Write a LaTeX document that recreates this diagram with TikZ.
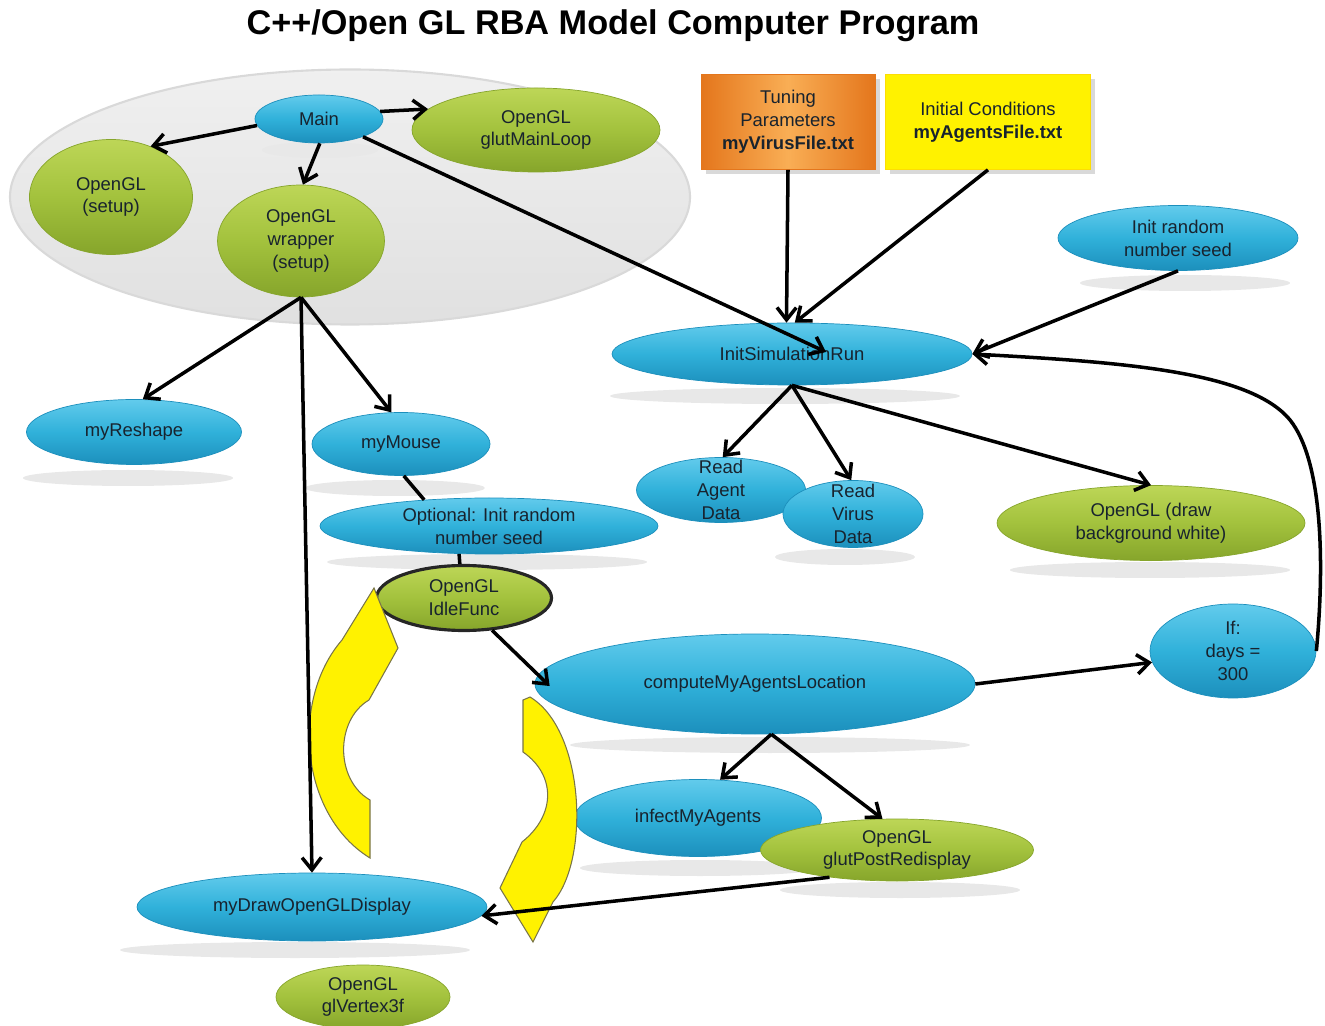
\documentclass[tikz,border=0pt]{standalone}
\usepackage{fontspec}
\setmainfont{Liberation Sans}
\usetikzlibrary{arrows.meta,shapes.geometric,calc,shadows}
\definecolor{bluelt}{HTML}{62CBEC}
\definecolor{bluemd}{HTML}{30B1DA}
\definecolor{bluedk}{HTML}{1C8FBC}
\definecolor{greenlt}{HTML}{BDD657}
\definecolor{greenmd}{HTML}{A3C23D}
\definecolor{greendk}{HTML}{86A52B}
\definecolor{orangelt}{HTML}{F9AE55}
\definecolor{orangedk}{HTML}{E4761C}
\definecolor{txt}{HTML}{18232E}
\tikzset{
    oval/.style={ellipse, inner sep=-6pt, align=center, text=txt, font=\fontsize{10.5}{13}\selectfont}, % 椭圆结点的通用样式
    blueoval/.style={oval, draw=bluedk, top color=bluelt, bottom color=bluedk, middle color=bluemd}, % 蓝色椭圆
    greenoval/.style={oval, draw=greendk, top color=greenlt, bottom color=greendk, middle color=greenmd}, % 绿色椭圆
    filebox/.style={rectangle, inner sep=2pt, align=center, text=txt, font=\fontsize{10.5}{13}\selectfont, drop shadow={opacity=0.3}}, % 输入文件方框
    wh/.style 2 args={minimum width=#1*0.02cm, minimum height=#2*0.02cm}, % 按像素给出尺寸
    link/.style={line width=2pt, -{Straight Barb[length=7pt,width=11pt]}}, % 带箭头的连线
    plainlink/.style={line width=2pt}, % 无箭头的连线
    flatshadow/.style={fill=black!9}, % 结点下方的阴影
    loopy/.style={fill=yellow, draw=black!60!yellow, line width=0.6pt} % 黄色循环箭头
}

\begin{document}
\begin{tikzpicture}[x=0.02cm, y=-0.02cm]
    \useasboundingbox (0,0) rectangle (1325,1026);

    \node[font=\bfseries\fontsize{19.5}{22}\selectfont] (title) at (613,26) {C++/Open GL RBA Model Computer Program};

    % 主程序分组
    \node[ellipse, wh={680}{255}, draw=black!15, line width=1.2pt, top color=black!6, bottom color=black!12] (group) at (350,197) {};

    \foreach \sx/\sy/\sr in {320/150/58, 1185/283/105, 785/396/175, 128/478/105, 395/488/90, 487/562/160,
        845/557/70, 1150/570/140, 770/745/200, 700/868/120, 900/890/120, 295/950/175} {
        \fill[flatshadow] (\sx,\sy) ellipse [x radius=\sr, y radius=8];
    }

    \node[blueoval, wh={128}{48}] (main) at (319,119) {Main};
    \node[greenoval, wh={248}{84}] (glutloop) at (536,130) {OpenGL\\glutMainLoop};
    \node[greenoval, wh={163}{115}] (setup) at (111,197) {OpenGL\\(setup)};
    \node[greenoval, wh={167}{112}] (wrapper) at (301,241) {OpenGL\\wrapper\\(setup)};

    \node[filebox, wh={174}{95}, draw=orangedk, left color=orangedk, right color=orangedk, middle color=orangelt] (tuning) at (788,122) {Tuning\\Parameters\\\textbf{myVirusFile.txt}};
    \node[filebox, wh={205}{95}, draw=yellow!80!orange, fill=yellow] (initcond) at (988,122) {Initial Conditions\\\textbf{myAgentsFile.txt}};

    \node[blueoval, wh={240}{65}] (initrand) at (1178,238) {Init random\\number seed};
    \node[blueoval, wh={360}{62}] (initsim) at (792,354) {InitSimulationRun};
    \node[blueoval, wh={215}{65}] (reshape) at (134,432) {myReshape};
    \node[blueoval, wh={178}{63}] (mymouse) at (401,444) {myMouse};
    \node[blueoval, wh={338}{56}] (optional) at (489,526) {Optional: Init random\\number seed};
    \node[greenoval, wh={175}{65}, draw=black!85, line width=1.8pt] (idle) at (464,598) {OpenGL\\IdleFunc};
    \node[blueoval, wh={169}{65}] (readagent) at (721,490) {Read\\Agent\\Data};
    \node[blueoval, wh={140}{67}] (readvirus) at (853,514) {Read\\Virus\\Data};
    \node[greenoval, wh={308}{75}] (drawbg) at (1151,523) {OpenGL (draw\\background white)};
    \node[blueoval, wh={440}{100}] (compute) at (755,684) {computeMyAgentsLocation};
    \node[blueoval, wh={166}{94}] (ifdays) at (1233,651) {If:\\days =\\300};
    \node[blueoval, wh={247}{77}] (infect) at (698,818) {infectMyAgents};
    \node[greenoval, wh={273}{62}] (glutpost) at (897,850) {OpenGL\\glutPostRedisplay};
    \node[blueoval, wh={350}{68}] (mydraw) at (312,907) {myDrawOpenGLDisplay};
    \node[greenoval, wh={174}{64}] (vertex) at (363,997) {OpenGL\\glVertex3f};

    % 黄色循环箭头
    \filldraw[loopy] (370,858) .. controls (300,815) and (290,700) .. (342,640) -- (374,588) -- (398,648)
        -- (369,700) .. controls (335,720) and (335,780) .. (370,800) -- cycle;
    \filldraw[loopy] (523,700) -- (530,697) .. controls (585,730) and (590,860) .. (553,902) -- (533,942)
        -- (500,888) -- (522,842) .. controls (556,815) and (556,775) .. (523,752) -- cycle;

    \draw[link] (main.7) -- (glutloop.169);
    \draw[link] (main.186) -- (setup.52);
    \draw[link] (main.-88) -- (wrapper.88);
    \draw[link] (main.-22) -- ($(initsim)+(34,-2)$);
    \draw[link] (wrapper.south) -- (reshape.75);
    \draw[link] (wrapper.south) -- (mydraw.north);
    \draw[link] (wrapper.south) -- (mymouse.107);
    \draw[plainlink] (mymouse.-85) -- (optional.158);
    \draw[plainlink] (optional.-137) -- (idle.97);
    \draw[link] (idle.-49) -- ($(compute.west)+(15,2)$);
    \draw[link] (tuning.south) -- (initsim.100);
    \draw[link] (initcond.south) -- (initsim.85);
    \draw[link] (initrand.south) -- (initsim.east);
    \draw[link] (initsim.south) -- (readagent.87);
    \draw[link] (initsim.south) -- (readvirus.93);
    \draw[link] (initsim.south) -- (drawbg.north);
    \draw[link] (compute.east) -- (ifdays.188);
    \draw[link] (ifdays.east) .. controls (1325,560) and (1322,460) .. (1290,420)
        .. controls (1250,371) and (1120,362) .. (initsim.east);
    \draw[link] (compute.-72) -- (infect.60);
    \draw[link] (compute.-72) -- (glutpost.115);
    \draw[link] (glutpost.202) -- (mydraw.-3);
\end{tikzpicture}
\end{document}
